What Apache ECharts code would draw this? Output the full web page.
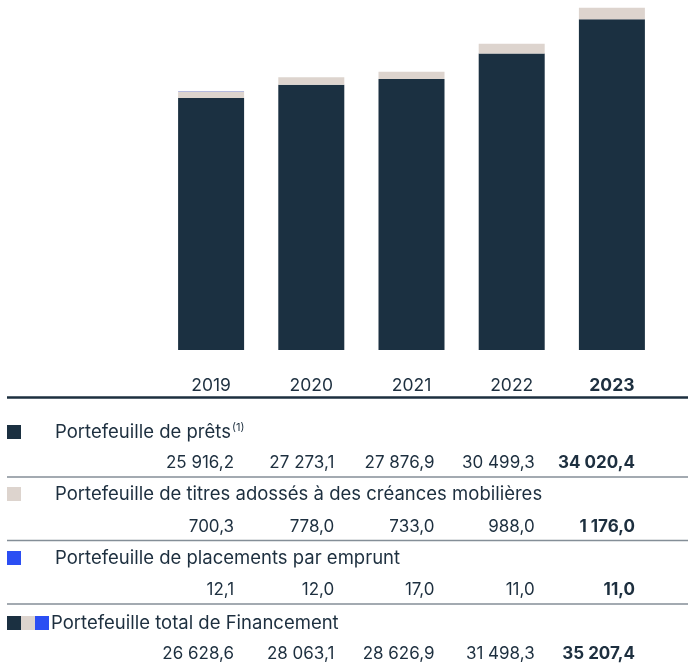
<!DOCTYPE html>
<html>
<head>
<meta charset="utf-8">
<script src="https://cdn.jsdelivr.net/npm/echarts@6/dist/echarts.min.js"></script>
<style>
html, body { margin: 0; padding: 0; background: #fff; }
#chart { width: 688px; height: 665px; }
</style>
</head>
<body>
<div id="chart"></div>
<script>
// données
var years = ['2019', '2020', '2021', '2022', '2023'];
var prets = [25916.2, 27273.1, 27876.9, 30499.3, 34020.4];
var titres = [700.3, 778.0, 733.0, 988.0, 1176.0];
var placements = [12.1, 12.0, 17.0, 11.0, 11.0];
var totaux = [26628.6, 28063.1, 28626.9, 31498.3, 35207.4];

var rowLabels = [
    'Portefeuille de prêts',
    'Portefeuille de titres adossés à des créances mobilières',
    'Portefeuille de placements par emprunt',
    'Portefeuille total de Financement'
];

var C_DARK = '#1b3041';
var C_BEIGE = '#ddd4ce';
var C_BLUE = '#2b4ef3';
var C_TEXT = '#1d2f3f';
var C_RULE = '#848e97';
var FONT = 'Inter, "Noto Sans", sans-serif';

function fmt(v) {
    var s = v.toFixed(1).split('.');
    var ent = s[0].replace(/\B(?=(\d{3})+(?!\d))/g, '\u00a0');
    return ent + ',' + s[1];
}

var myChart = echarts.init(document.getElementById('chart'));

var option = {
    animation: false,
    grid: {
        left: 161,
        top: 0,
        width: 501,
        height: 350
    },
    xAxis: {
        type: 'category',
        data: years,
        axisLine: { show: false },
        axisTick: { show: false },
        axisLabel: {
            margin: 27,
            fontFamily: FONT,
            fontSize: 17.5,
            color: C_TEXT,
            formatter: function (v) {
                return v === '2023' ? '{b|' + v + '}' : v;
            },
            rich: {
                b: { fontFamily: FONT, fontSize: 17.5, fontWeight: 'bold', color: C_TEXT }
            }
        }
    },
    yAxis: {
        type: 'value',
        min: 0,
        max: 36000,
        show: false
    },
    series: [{
        type: 'bar',
        stack: 'total',
        barWidth: 66,
        itemStyle: { color: C_DARK },
        data: prets
    }, {
        type: 'bar',
        stack: 'total',
        barWidth: 66,
        itemStyle: { color: C_BEIGE },
        data: titres
    }, {
        type: 'bar',
        stack: 'total',
        barWidth: 66,
        itemStyle: { color: C_BLUE },
        data: placements
    }]
};

myChart.setOption(option);

// tableau sous le graphique
var rows = [prets, titres, placements, totaux];
var labelY = [432, 494, 558, 623];
var valueY = [463, 527, 590, 654];
var ruleY = [477, 540.5, 604];
var squares = [[C_DARK], [C_BEIGE], [C_BLUE], [C_DARK, C_BEIGE, C_BLUE]];

var graphics = [];

// ligne épaisse sous les années
graphics.push({
    type: 'line',
    shape: { x1: 7, y1: 397.5, x2: 688, y2: 397.5 },
    style: { stroke: C_TEXT, lineWidth: 2.5 }
});

ruleY.forEach(function (y) {
    graphics.push({
        type: 'line',
        shape: { x1: 7, y1: y, x2: 688, y2: y },
        style: { stroke: C_RULE, lineWidth: 1.5 }
    });
});

rows.forEach(function (vals, r) {
    // carrés de légende
    squares[r].forEach(function (c, k) {
        graphics.push({
            type: 'rect',
            shape: { x: 7 + k * 14, y: labelY[r] - 7, width: 14, height: 14 },
            style: { fill: c }
        });
    });
    var lx = r === 3 ? 51 : 55;
    graphics.push({
        type: 'text',
        x: lx,
        y: labelY[r],
        style: {
            text: r === 0 ? '{n|' + rowLabels[r] + '}{s|(1)}' : rowLabels[r],
            font: '18.5px ' + FONT,
            fill: C_TEXT,
            verticalAlign: 'middle',
            rich: {
                n: { fontFamily: FONT, fontSize: 18.5, fill: C_TEXT },
                s: { fontFamily: FONT, fontSize: 11, fill: C_TEXT, verticalAlign: 'top', padding: [0, 0, 9, 1] }
            }
        }
    });
    vals.forEach(function (v, i) {
        var cx = myChart.convertToPixel({ xAxisIndex: 0 }, years[i]);
        graphics.push({
            type: 'text',
            x: cx + 23,
            y: valueY[r],
            style: {
                text: fmt(v),
                font: (i === 4 ? 'bold ' : '') + '17px ' + FONT,
                fill: C_TEXT,
                align: 'right',
                verticalAlign: 'middle'
            }
        });
    });
});

myChart.setOption({ graphic: graphics });
</script>
</body>
</html>
